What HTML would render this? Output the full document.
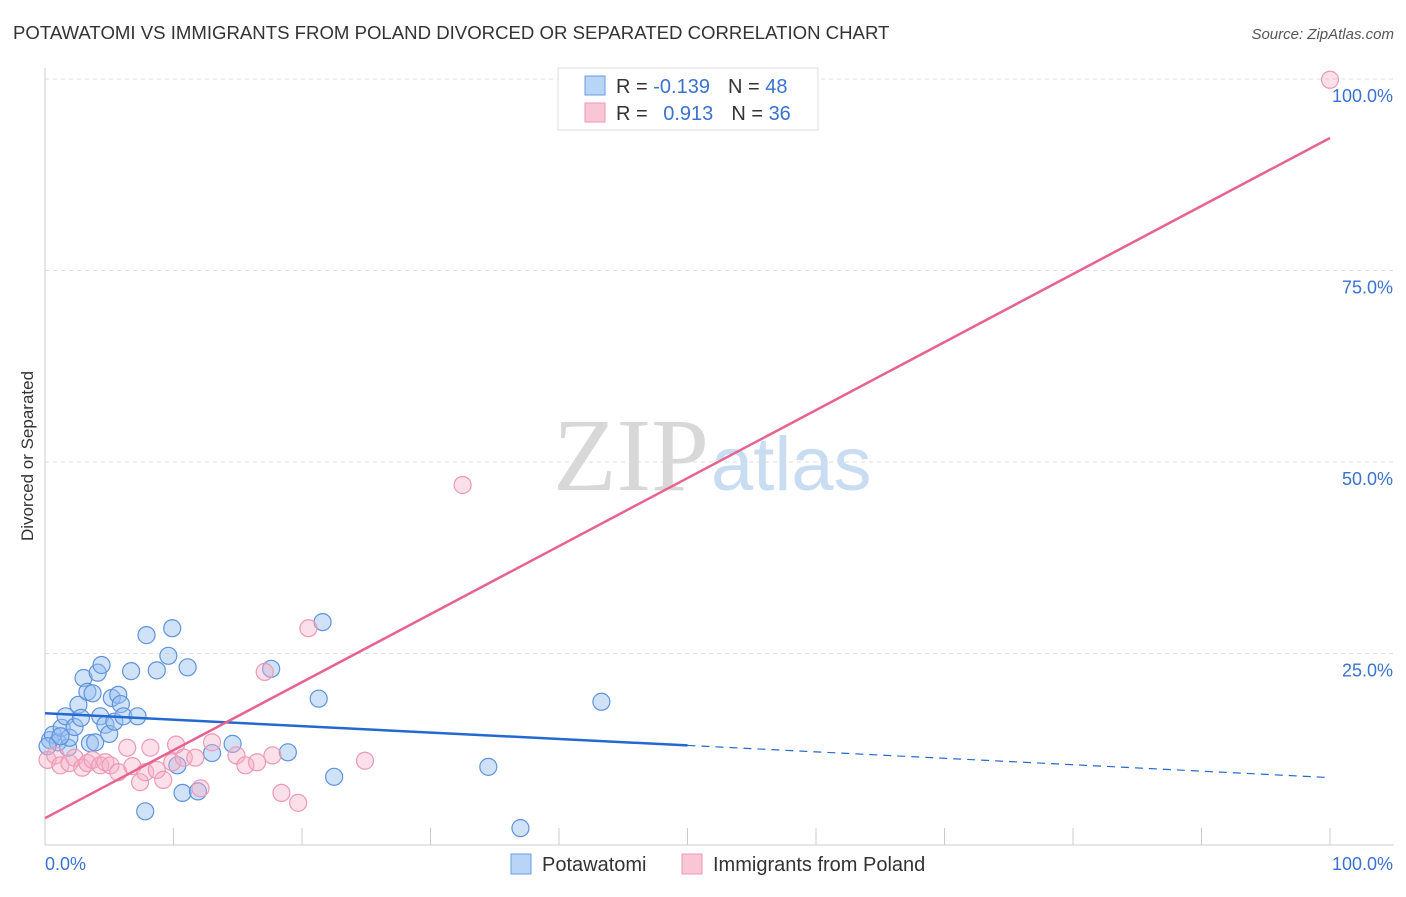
<!DOCTYPE html>
<html><head><meta charset="utf-8"><style>
body{margin:0;background:#fff;font-family:"Liberation Sans",sans-serif}
</style></head><body>
<svg id="c" width="1406" height="892" viewBox="0 0 1406 892" xmlns="http://www.w3.org/2000/svg" font-family="Liberation Sans, sans-serif">
<text x="13" y="39" font-size="18.6" fill="#333">POTAWATOMI VS IMMIGRANTS FROM POLAND DIVORCED OR SEPARATED CORRELATION CHART</text>
<text x="1394" y="39" font-size="15" fill="#555" text-anchor="end" font-style="italic">Source: ZipAtlas.com</text>
<text x="553" y="490" font-size="104" font-family="Liberation Serif, serif"><tspan fill="#d8d8d8">ZIP</tspan><tspan fill="#c8dcf2" font-family="Liberation Sans, sans-serif" font-size="76" dx="2">atlas</tspan></text>
<text transform="translate(33,456) rotate(-90)" font-size="17" fill="#333" text-anchor="middle">Divorced or Separated</text>
<g id="grid"></g><g id="ticks"></g><g id="pts"></g><g id="lines"></g>
<g>
<rect x="558" y="68" width="260" height="62" fill="#fff" stroke="#ddd"/>
<rect x="585" y="76" width="20" height="19" fill="#b8d4f6" stroke="#6a9be0"/>
<rect x="585" y="103" width="20" height="19" fill="#f9c6d6" stroke="#ec9ab4"/>
<text x="616" y="93" font-size="20" fill="#333">R = <tspan fill="#3a72d0">-0.139</tspan><tspan dx="18">N = </tspan><tspan fill="#3a72d0">48</tspan></text>
<text x="616" y="120" font-size="20" fill="#333">R = <tspan fill="#3a72d0" dx="10">0.913</tspan><tspan dx="18">N = </tspan><tspan fill="#3a72d0">36</tspan></text>
</g>
<g>
<rect x="511" y="854" width="20" height="20" fill="#b8d4f6" stroke="#6a9be0"/>
<text x="542" y="871" font-size="20" fill="#333">Potawatomi</text>
<rect x="682" y="854" width="20" height="20" fill="#f9c6d6" stroke="#ec9ab4"/>
<text x="713" y="871" font-size="20" fill="#333">Immigrants from Poland</text>
</g>
</svg>
<script>
const blueX=[0.39,0.62,1.0,1.3,1.6,1.8,1.9,2.3,2.6,2.8,3.0,3.3,3.5,3.7,3.9,4.1,4.3,4.4,4.7,5.0,5.2,5.4,5.7,5.9,6.1,6.7,7.2,7.9,8.7,9.6,9.9,10.7,11.1,11.9,10.3,13.0,14.6,17.6,18.9,21.3,21.6,22.5,34.5,37.0,43.3,7.8,1.2,0.2];
const blueY=[13.7,14.4,13.4,15.3,16.8,12.7,14.0,15.4,18.3,16.6,21.8,20.0,13.3,19.8,13.4,22.5,16.8,23.5,15.7,14.5,19.2,16.1,19.6,18.4,16.8,22.7,16.8,27.4,22.8,24.7,28.3,6.8,23.2,7.0,10.4,12.0,13.2,23.0,12.1,19.1,29.1,8.9,10.2,2.2,18.7,4.4,14.2,12.9];
const pinkX=[0.2,0.8,1.2,1.9,2.3,2.9,3.3,3.7,4.3,4.7,5.1,5.7,6.4,6.8,7.4,7.8,8.2,8.7,9.2,9.9,10.2,10.8,11.7,12.1,13.0,14.9,15.6,16.5,17.1,17.7,18.4,19.7,20.5,24.9,32.5,100];
const pinkY=[11.1,11.7,10.4,10.7,11.4,10.1,10.7,11.1,10.4,10.8,10.4,9.5,12.7,10.3,8.2,9.5,12.7,9.8,8.5,10.8,13.1,11.4,11.4,7.4,13.4,11.7,10.4,10.8,22.6,11.7,6.8,5.5,28.3,11.0,47.0,99.9];
const blueTrend=[17.2,8.8], pinkTrend=[3.5,92.3];
const yTicks=[25,50,75,100];
const NS='http://www.w3.org/2000/svg';
const X=v=>45+v*12.85, Y=v=>845-v*7.66;
function mk(p,t,a){const e=document.createElementNS(NS,t);for(const k in a)e.setAttribute(k,a[k]);document.getElementById(p).appendChild(e);return e;}
let ax=mk('grid','line',{x1:45,y1:68,x2:45,y2:845,stroke:'#ccc'});

let bx=mk('grid','line',{x1:45,y1:845,x2:1394,y2:845,stroke:'#ccc'});

yTicks.forEach(t=>{
 const g=mk('grid','line',{x1:45,y1:Y(t),x2:1394,y2:Y(t),stroke:'#ddd','stroke-dasharray':'4,4'});
 
 const l=mk('grid','text',{x:1393,y:Y(t)+23,'font-size':18,fill:'#3a72d0','text-anchor':'end'});l.textContent=t.toFixed(1)+'%';
 
});
for(let i=1;i<=10;i++){const t=mk('ticks','line',{x1:X(i*10),y1:828,x2:X(i*10),y2:845,stroke:'#ccc'});
 }
[['0.0%',45,'start'],['100.0%',1393,'end']].forEach(d=>{const l=mk('ticks','text',{x:d[1],y:870,'font-size':18,fill:'#3a72d0','text-anchor':d[2]});l.textContent=d[0];
 });
blueX.forEach((x,i)=>{const c=mk('pts','circle',{cx:X(x),cy:Y(blueY[i]),r:8.5,fill:'rgba(150,190,240,0.45)',stroke:'#5f93dc','stroke-width':1.2});
 });
pinkX.forEach((x,i)=>{const c=mk('pts','circle',{cx:X(x),cy:Y(pinkY[i]),r:8.5,fill:'rgba(245,175,200,0.4)',stroke:'#ec9ab4','stroke-width':1.2});
 });
const bm=blueTrend[0]+(blueTrend[1]-blueTrend[0])*0.5;
let l1=mk('lines','line',{x1:X(0),y1:Y(blueTrend[0]),x2:X(50),y2:Y(bm),stroke:'#2468d0','stroke-width':2.5});

let l2=mk('lines','line',{x1:X(50),y1:Y(bm),x2:X(100),y2:Y(blueTrend[1]),stroke:'#2468d0','stroke-width':1.2,'stroke-dasharray':'8,6'});

let l3=mk('lines','line',{x1:X(0),y1:Y(pinkTrend[0]),x2:X(100),y2:Y(pinkTrend[1]),stroke:'#e8628e','stroke-width':2.5});

</script>
</body></html>
